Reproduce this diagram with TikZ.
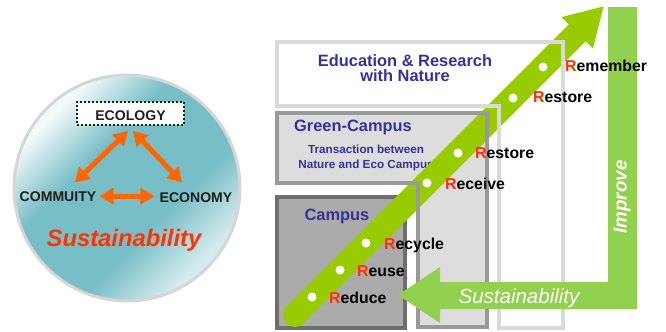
\documentclass[tikz,border=0pt]{standalone}
\usepackage{fontspec}
\setmainfont{Liberation Sans}
\usetikzlibrary{arrows.meta}

\definecolor{rred}{HTML}{FF3300}
\definecolor{navy}{HTML}{333399}
\definecolor{orarr}{HTML}{FF6600}
\definecolor{ecogreen}{HTML}{003300}
\definecolor{bandgreen}{HTML}{99CC00}
\definecolor{arrgreen}{HTML}{92D050}
\definecolor{ballteal}{HTML}{78BEC6}
\definecolor{balllight}{HTML}{F2F9FA}
\definecolor{balllow}{HTML}{D2EBEE}
\definecolor{ballrim}{HTML}{D6D6D6}
\definecolor{edugray}{HTML}{D9D9D9}
\definecolor{gcgray}{HTML}{999999}
\definecolor{gcfill}{HTML}{DDDDDD}
\definecolor{cpgray}{HTML}{6E6E6E}
\definecolor{cpfill}{HTML}{ABABAB}

\pgfdeclareverticalshading{ballshade}{100bp}{color(0bp)=(balllow); color(27bp)=(balllow);
  color(40bp)=(ballteal); color(60bp)=(ballteal); color(73bp)=(balllight); color(100bp)=(balllight)}

\begin{document}
\begin{tikzpicture}[x=0.3mm,y=-0.3mm,
  cyclename/.style={anchor=base,inner sep=0pt,text=black!88,font=\fontsize{12}{14}\selectfont\bfseries},
  orarrow/.style={draw=orarr,line width=1.5mm,{Triangle[length=4.2mm,width=4.8mm]}-{Triangle[length=4.2mm,width=4.8mm]}},
  boxtitle/.style={anchor=base,inner sep=0pt,text=navy,font=\fontsize{14}{12.8}\selectfont\bfseries},
  rdot/.style={circle,fill=white,inner sep=0pt,minimum size=2.7mm},
  rword/.style={anchor=base west,inner sep=0pt,font=\fontsize{13.5}{14}\selectfont\bfseries},
  band/.style={draw=bandgreen,line width=7.2mm,line cap=round,-{Triangle[length=11.4mm,width=12.5mm]}}
]
\fill[white] (0,0) rectangle (666,331);
\useasboundingbox (0,0) rectangle (666,331);

% Sustainability ball
\draw[draw=ballrim,line width=0.9mm,shading=ballshade,shading angle=45] (127,188) circle (113);
\node[draw=ecogreen,fill=white,line width=0.6mm,dash pattern=on 0.6mm off 0.6mm,
  minimum width=32.1mm,minimum height=6.9mm,inner sep=0pt] (eco) at (130.5,113.5) {};
\node[cyclename] (ecotext) at (130.5,120) {ECOLOGY};
\node[cyclename] (com) at (58,201) {COMMUITY};
\node[cyclename] (econ) at (196,202) {ECONOMY};
\draw[orarrow] ([xshift=-0.75mm,yshift=-1.5mm]eco.south) -- ([xshift=5.1mm,yshift=2.55mm]com.north);
\draw[orarrow] ([xshift=0.75mm,yshift=-1.5mm]eco.south) -- ([xshift=-4.2mm,yshift=2.85mm]econ.north);
\draw[orarrow,shorten <=0.9mm,shorten >=1.5mm] (com.east) -- (com.east -| econ.west);
\node[anchor=base,inner sep=0pt,text=rred,font=\fontsize{20.3}{22}\selectfont\bfseries\itshape] (sust) at (124,246) {Sustainability};

% Education & Research with Nature
\draw[draw=edugray,fill=white,line width=1.2mm] (277,42) -- (563,42) -- (563,328) -- (499,328) -- (499,106) -- (277,106) -- cycle;
\node[boxtitle,anchor=center,align=center] (edu) at (405,68.5) {Education \& Research\\with Nature};

% Green-Campus
\draw[draw=gcgray,fill=gcfill,line width=1.2mm] (277,113) -- (487,113) -- (487,327) -- (418,327) -- (418,183) -- (277,183) -- cycle;
\node[boxtitle] (gc) at (353,131) {Green-Campus};
\node[anchor=center,align=center,inner sep=0pt,text=navy,font=\fontsize{10}{13}\selectfont\bfseries] (trans) at (366,158)
  {Transaction between\\Nature and Eco Campus};

% Campus
\draw[draw=cpgray,fill=cpfill,line width=1.2mm] (277,197) rectangle (405,328);
\node[boxtitle] (cp) at (337,220) {Campus};

% green band
\coordinate (bandfoot) at (295,315);
\coordinate (bandtip) at (604,6);
\draw[band] (bandfoot) -- (bandtip);

% outlines over the band
\draw[draw=edugray,line width=1.2mm] (277,42) -- (563,42) -- (563,328) -- (499,328) -- (499,106) -- (277,106) -- cycle;
\draw[draw=gcgray,line width=1.2mm] (277,113) -- (487,113) -- (487,327) -- (418,327) -- (418,183) -- (277,183) -- cycle;

% Sustainability / Improve arrow
\fill[arrgreen] (398,295) -- (440,267) -- (440,282) -- (608,282) -- (608,7) -- (637,7) -- (637,309) -- (440,309) -- (440,323) -- cycle;
\node[anchor=base,inner sep=0pt,text=white,font=\fontsize{17.5}{20}\selectfont\itshape] (sustarr) at (519,303) {Sustainability};
\node[rotate=90,inner sep=0pt,text=white,font=\fontsize{16}{18}\selectfont\bfseries\itshape] (improve) at (622,197) {Improve};

% the R steps
\node[rdot] (dreduce) at (312,297) {};
\node[rdot] (dreuse) at (340,270) {};
\node[rdot] (drecycle) at (366,243) {};
\node[rdot] (dreceive) at (427,183) {};
\node[rdot] (drestore) at (458,153) {};
\node[rdot] (drestoretwo) at (513,98) {};
\node[rdot] (dremember) at (543,67) {};
\node[rword] (wreduce) at (329,303) {\textcolor{rred}{R}educe};
\node[rword] (wreuse) at (357,276) {\textcolor{rred}{R}euse};
\node[rword] (wrecycle) at (384,249) {\textcolor{rred}{R}ecycle};
\node[rword] (wreceive) at (445,189) {\textcolor{rred}{R}eceive};
\node[rword] (wrestore) at (475,158) {\textcolor{rred}{R}estore};
\node[rword] (wrestoretwo) at (533,102) {\textcolor{rred}{R}estore};
\node[rword] (wremember) at (565,71) {\textcolor{rred}{R}emember};

\end{tikzpicture}
\end{document}
